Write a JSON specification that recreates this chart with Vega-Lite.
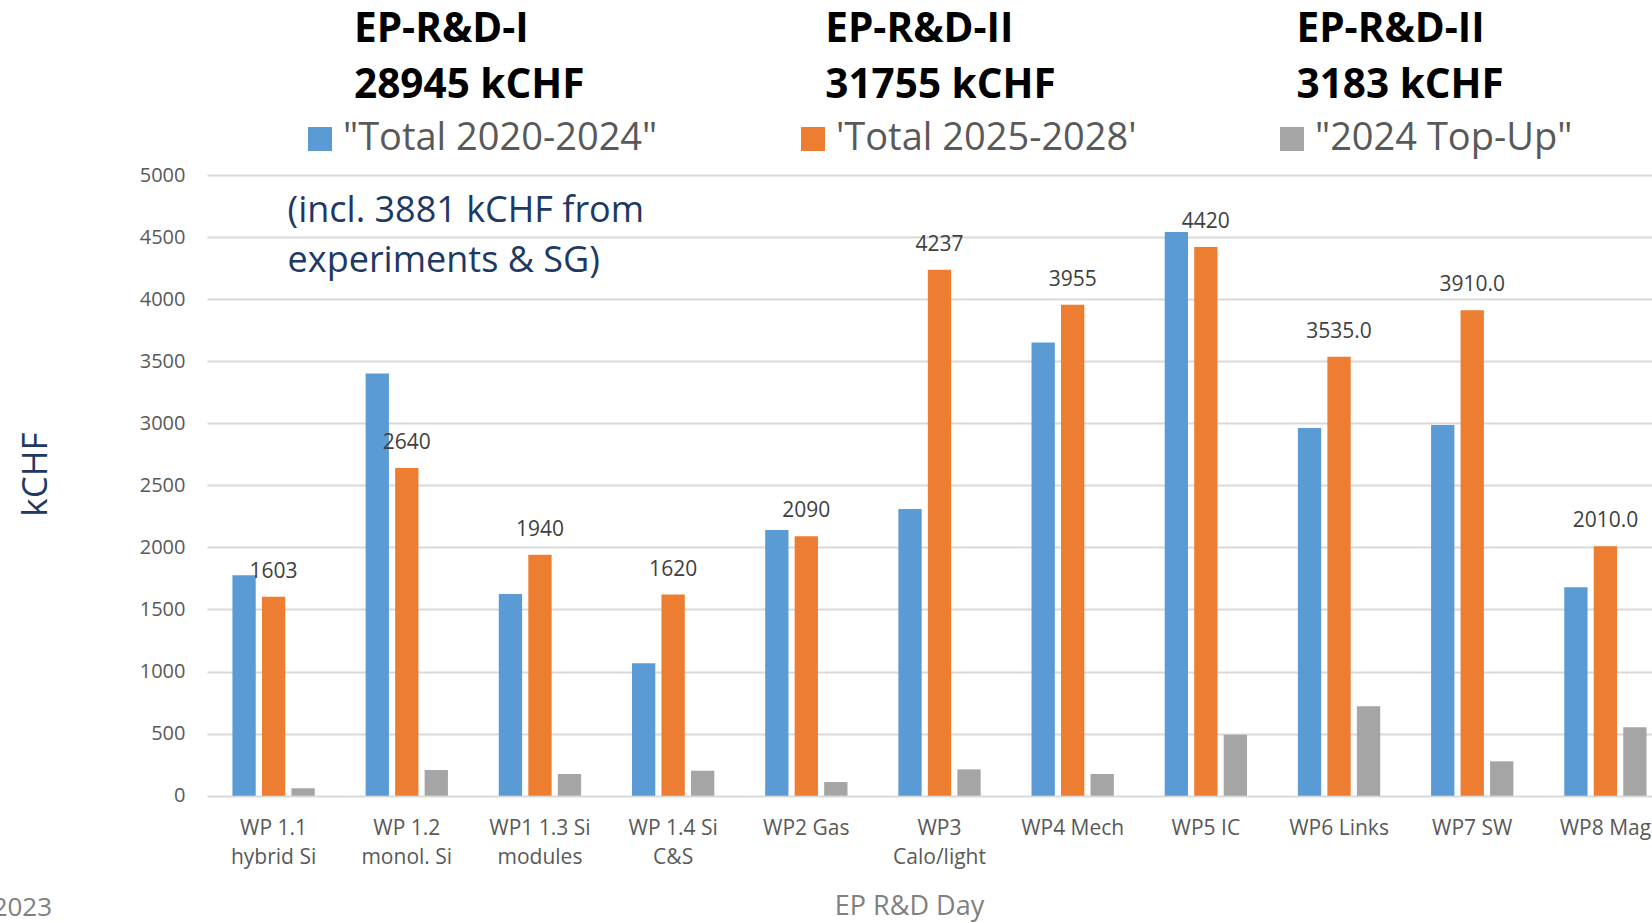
{
  "$schema": "https://vega.github.io/schema/vega-lite/v6.json",
  "autosize": {"type": "none"},
  "width": 1445,
  "height": 620.7,
  "padding": {"left": 207, "top": 175, "right": 0, "bottom": 127.3},
  "background": "white",
  "config": {"font": "Open Sans", "view": {"stroke": null}},
  "title": {"text": "EP R&D Day", "orient": "bottom", "anchor": "middle", "frame": "group", "dx": -20, "offset": -26, "fontSize": 27, "fontWeight": "normal", "color": "#808080", "font": "Open Sans"},
  "datasets": {
    "bars": [
      {"wp": "WP 1.1|hybrid Si", "series": "\"Total 2020-2024\"", "value": 1775},
      {"wp": "WP 1.1|hybrid Si", "series": "'Total 2025-2028'", "value": 1603, "label": "1603"},
      {"wp": "WP 1.1|hybrid Si", "series": "\"2024 Top-Up\"", "value": 60},
      {"wp": "WP 1.2|monol. Si", "series": "\"Total 2020-2024\"", "value": 3400},
      {"wp": "WP 1.2|monol. Si", "series": "'Total 2025-2028'", "value": 2640, "label": "2640"},
      {"wp": "WP 1.2|monol. Si", "series": "\"2024 Top-Up\"", "value": 207},
      {"wp": "WP1  1.3 Si|modules", "series": "\"Total 2020-2024\"", "value": 1625},
      {"wp": "WP1  1.3 Si|modules", "series": "'Total 2025-2028'", "value": 1940, "label": "1940"},
      {"wp": "WP1  1.3 Si|modules", "series": "\"2024 Top-Up\"", "value": 175},
      {"wp": "WP 1.4 Si|C&S", "series": "\"Total 2020-2024\"", "value": 1066},
      {"wp": "WP 1.4 Si|C&S", "series": "'Total 2025-2028'", "value": 1620, "label": "1620"},
      {"wp": "WP 1.4 Si|C&S", "series": "\"2024 Top-Up\"", "value": 201},
      {"wp": "WP2 Gas", "series": "\"Total 2020-2024\"", "value": 2140},
      {"wp": "WP2 Gas", "series": "'Total 2025-2028'", "value": 2090, "label": "2090"},
      {"wp": "WP2 Gas", "series": "\"2024 Top-Up\"", "value": 110},
      {"wp": "WP3|Calo/light", "series": "\"Total 2020-2024\"", "value": 2310},
      {"wp": "WP3|Calo/light", "series": "'Total 2025-2028'", "value": 4237, "label": "4237"},
      {"wp": "WP3|Calo/light", "series": "\"2024 Top-Up\"", "value": 212},
      {"wp": "WP4 Mech", "series": "\"Total 2020-2024\"", "value": 3650},
      {"wp": "WP4 Mech", "series": "'Total 2025-2028'", "value": 3955, "label": "3955"},
      {"wp": "WP4 Mech", "series": "\"2024 Top-Up\"", "value": 175},
      {"wp": "WP5 IC", "series": "\"Total 2020-2024\"", "value": 4540},
      {"wp": "WP5 IC", "series": "'Total 2025-2028'", "value": 4420, "label": "4420"},
      {"wp": "WP5 IC", "series": "\"2024 Top-Up\"", "value": 490},
      {"wp": "WP6 Links", "series": "\"Total 2020-2024\"", "value": 2962},
      {"wp": "WP6 Links", "series": "'Total 2025-2028'", "value": 3535, "label": "3535.0"},
      {"wp": "WP6 Links", "series": "\"2024 Top-Up\"", "value": 720},
      {"wp": "WP7 SW", "series": "\"Total 2020-2024\"", "value": 2987},
      {"wp": "WP7 SW", "series": "'Total 2025-2028'", "value": 3910, "label": "3910.0"},
      {"wp": "WP7 SW", "series": "\"2024 Top-Up\"", "value": 277},
      {"wp": "WP8 Mag", "series": "\"Total 2020-2024\"", "value": 1680},
      {"wp": "WP8 Mag", "series": "'Total 2025-2028'", "value": 2010, "label": "2010.0"},
      {"wp": "WP8 Mag", "series": "\"2024 Top-Up\"", "value": 551}
    ],
    "headings": [
      {"series": "\"Total 2020-2024\"", "heading": "EP-R&D-I\n28945 kCHF"},
      {"series": "'Total 2025-2028'", "heading": "EP-R&D-II\n31755 kCHF"},
      {"series": "\"2024 Top-Up\"", "heading": "EP-R&D-II\n3183 kCHF"}
    ]
  },
  "layer": [
    {
      "data": {"name": "bars"},
      "layer": [
        {
          "mark": {"type": "bar"},
          "encoding": {
            "x": {
              "field": "wp", "type": "nominal", "sort": null,
              "scale": {"range": [0, 1465], "paddingInner": 0.382, "paddingOuter": 0.191},
              "axis": {
                "title": "2023", "titleX": -155.4, "titleY": 119.3, "titleAlign": "right", "titleBaseline": "alphabetic",
                "titleFontSize": 26, "titleColor": "#808080", "titleFontWeight": "normal", "titleFont": "Open Sans",
                "labelExpr": "split(datum.label, '|')", "labelFontSize": 21, "labelColor": "#595959", "labelFont": "Open Sans",
                "labelPadding": 22, "labelLineHeight": 29, "labelAngle": 0, "labelOverlap": false, "labelLimit": 300,
                "ticks": false, "domain": false, "grid": false
              }
            },
            "xOffset": {
              "field": "series", "type": "nominal",
              "sort": ["\"Total 2020-2024\"", "'Total 2025-2028'", "\"2024 Top-Up\""],
              "scale": {"domain": ["\"Total 2020-2024\"", "'Total 2025-2028'", "\"2024 Top-Up\""], "paddingInner": 0.21, "paddingOuter": 0}
            },
            "y": {
              "field": "value", "type": "quantitative",
              "scale": {"domain": [0, 5000], "nice": false},
              "axis": {
                "title": "kCHF", "titleFontSize": 35, "titleColor": "#203864", "titleFontWeight": "normal", "titleFont": "Open Sans",
                "titlePadding": 86, "titleY": 299,
                "values": [0, 500, 1000, 1500, 2000, 2500, 3000, 3500, 4000, 4500, 5000],
                "format": "d", "labelFontSize": 20, "labelColor": "#595959", "labelFont": "Open Sans", "labelPadding": 22,
                "ticks": false, "domain": false, "grid": true, "gridColor": "#D9D9D9", "gridWidth": 2
              }
            },
            "color": {
              "field": "series", "type": "nominal",
              "scale": {"domain": ["\"Total 2020-2024\"", "'Total 2025-2028'", "\"2024 Top-Up\""], "range": ["#5B9BD5", "#ED7D31", "#A5A5A5"]},
              "legend": {
                "orient": "none", "legendX": 94, "legendY": -55, "direction": "horizontal", "title": null,
                "symbolType": "square", "symbolSize": 576, "symbolStrokeWidth": 0, "symbolOpacity": 1,
                "labelFontSize": 38, "labelColor": "#595959", "labelFont": "Open Sans", "labelOffset": 4,
                "columnPadding": 136, "padding": 0, "labelLimit": 600
              }
            }
          }
        },
        {
          "transform": [{"filter": "isValid(datum.label)"}],
          "mark": {"type": "text", "dy": -25, "baseline": "middle", "align": "center", "fontSize": 21, "font": "Open Sans", "color": "#404040"},
          "encoding": {
            "x": {"field": "wp", "type": "nominal", "sort": null},
            "y": {"field": "value", "type": "quantitative"},
            "text": {"field": "label"}
          }
        },
        {
          "data": {"values": [{"note": "(incl. 3881 kCHF from\nexperiments & SG)"}]},
          "mark": {"type": "text", "align": "left", "baseline": "alphabetic", "dx": 14, "lineBreak": "\n", "lineHeight": 50, "fontSize": 36, "font": "Open Sans", "color": "#203864"},
          "encoding": {
            "x": {"datum": "WP 1.1|hybrid Si"},
            "y": {"datum": 4621},
            "text": {"field": "note"}
          }
        }
      ]
    },
    {
      "data": {"name": "headings"},
      "mark": {"type": "text", "align": "left", "baseline": "alphabetic", "lineBreak": "\n", "lineHeight": 56, "fontSize": 40.5, "fontWeight": "bold", "font": "Open Sans", "color": "#000000"},
      "encoding": {
        "x": {
          "field": "series", "type": "nominal",
          "scale": {"type": "point", "domain": ["\"Total 2020-2024\"", "'Total 2025-2028'", "\"2024 Top-Up\""], "range": [147, 1089.5], "padding": 0},
          "axis": null
        },
        "y": {"value": -133.5},
        "text": {"field": "heading"}
      }
    }
  ],
  "resolve": {"scale": {"x": "independent"}}
}
